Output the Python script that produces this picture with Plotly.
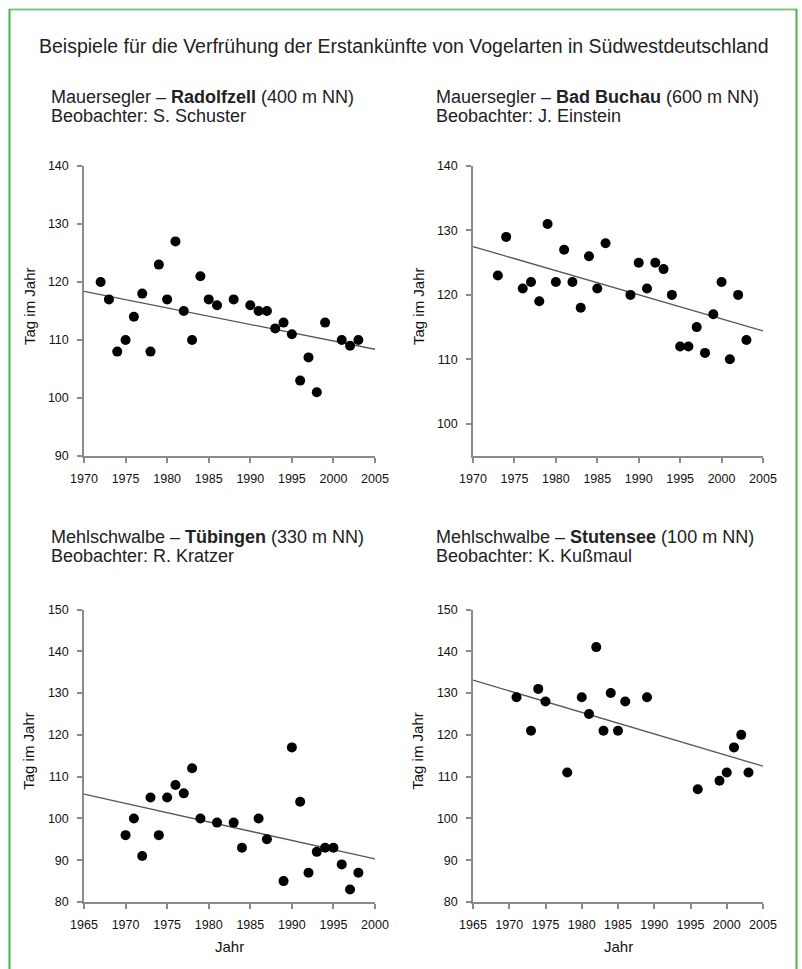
import plotly.graph_objects as go

W, H = 802, 969

# ---------------- data ----------------
rad_years = [1972, 1973, 1974, 1975, 1976, 1977, 1978, 1979, 1980, 1981, 1982, 1983, 1984, 1985, 1986,
             1988, 1990, 1991, 1992, 1993, 1994, 1995, 1996, 1997, 1998, 1999, 2001, 2002, 2003]
rad_days = [120, 117, 108, 110, 114, 118, 108, 123, 117, 127, 115, 110, 121, 117, 116,
            117, 116, 115, 115, 112, 113, 111, 103, 107, 101, 113, 110, 109, 110]
rad_trend_years = [1970, 2005]
rad_trend_days = [118.4, 108.4]

buc_years = [1973, 1974, 1976, 1977, 1978, 1979, 1980, 1981, 1982, 1983, 1984, 1985, 1986,
             1989, 1990, 1991, 1992, 1993, 1994, 1995, 1996, 1997, 1998, 1999, 2000, 2001, 2002, 2003]
buc_days = [123, 129, 121, 122, 119, 131, 122, 127, 122, 118, 126, 121, 128,
            120, 125, 121, 125, 124, 120, 112, 112, 115, 111, 117, 122, 110, 120, 113]
buc_trend_years = [1970, 2005]
buc_trend_days = [127.5, 114.4]

tue_years = [1970, 1971, 1972, 1973, 1974, 1975, 1976, 1977, 1978, 1979, 1981, 1983, 1984,
             1986, 1987, 1989, 1990, 1991, 1992, 1993, 1994, 1995, 1996, 1997, 1998]
tue_days = [96, 100, 91, 105, 96, 105, 108, 106, 112, 100, 99, 99, 93,
            100, 95, 85, 117, 104, 87, 92, 93, 93, 89, 83, 87]
tue_trend_years = [1965, 2000]
tue_trend_days = [105.8, 90.3]

stu_years = [1971, 1973, 1974, 1975, 1978, 1980, 1981, 1982, 1983, 1984, 1985, 1986, 1989,
             1996, 1999, 2000, 2001, 2002, 2003]
stu_days = [129, 121, 131, 128, 111, 129, 125, 141, 121, 130, 121, 128, 129,
            107, 109, 111, 117, 120, 111]
stu_trend_years = [1965, 2005]
stu_trend_days = [133.1, 112.5]

title_text = "Beispiele für die Verfrühung der Erstankünfte von Vogelarten in Südwestdeutschland"
panel_titles = [
    "Mauersegler – <b>Radolfzell</b> (400 m NN)",
    "Mauersegler – <b>Bad Buchau</b> (600 m NN)",
    "Mehlschwalbe – <b>Tübingen</b> (330 m NN)",
    "Mehlschwalbe – <b>Stutensee</b> (100 m NN)",
]
panel_observers = [
    "Beobachter: S. Schuster",
    "Beobachter: J. Einstein",
    "Beobachter: R. Kratzer",
    "Beobachter: K. Kußmaul",
]
y_title = "Tag im Jahr"
x_title = "Jahr"

# ---------------- layout helpers ----------------
def px(x):
    return x / W


def py(y):
    return 1 - y / H


panels = [
    dict(xs=rad_years, ys=rad_days, tx=rad_trend_years, ty=rad_trend_days,
         xr=[1970, 2005], yr=[90, 140], yt=[90, 100, 110, 120, 130, 140],
         dom_x=[84, 375], dom_y=[166, 456], xtitle=False, tx0=49, ty0=97),
    dict(xs=buc_years, ys=buc_days, tx=buc_trend_years, ty=buc_trend_days,
         xr=[1970, 2005], yr=[95, 140], yt=[100, 110, 120, 130, 140],
         dom_x=[473, 763], dom_y=[166, 456], xtitle=False, tx0=434, ty0=97),
    dict(xs=tue_years, ys=tue_days, tx=tue_trend_years, ty=tue_trend_days,
         xr=[1965, 2000], yr=[80, 150], yt=[80, 90, 100, 110, 120, 130, 140, 150],
         dom_x=[84, 375], dom_y=[609.5, 902], xtitle=True, tx0=49, ty0=537),
    dict(xs=stu_years, ys=stu_days, tx=stu_trend_years, ty=stu_trend_days,
         xr=[1965, 2005], yr=[80, 150], yt=[80, 90, 100, 110, 120, 130, 140, 150],
         dom_x=[473, 763], dom_y=[609.5, 902], xtitle=True, tx0=434, ty0=537),
]

fig = go.Figure()
annotations = []
axis_font = dict(family="Liberation Sans, Arial, sans-serif", size=12.5, color="#111")
text_font = "Liberation Sans, Arial, sans-serif"

for i, p in enumerate(panels):
    n = "" if i == 0 else str(i + 1)
    xa, ya = "x" + n, "y" + n
    fig.add_trace(go.Scatter(x=p["tx"], y=p["ty"], mode="lines", xaxis=xa, yaxis=ya,
                             line=dict(color="#555", width=1.3), showlegend=False, hoverinfo="skip",
                             cliponaxis=False))
    fig.add_trace(go.Scatter(x=p["xs"], y=p["ys"], mode="markers", xaxis=xa, yaxis=ya,
                             marker=dict(color="black", size=10), showlegend=False, cliponaxis=False))
    common = dict(showgrid=False, zeroline=False, showline=True, linecolor="#8a8a8a", linewidth=1.5,
                  ticks="outside", ticklen=5, tickwidth=1.5, tickcolor="#8a8a8a",
                  tickfont=axis_font, fixedrange=True, automargin=False)
    fig.layout["xaxis" + n] = dict(common, domain=[px(p["dom_x"][0]), px(p["dom_x"][1])],
                                   range=p["xr"], tickvals=list(range(p["xr"][0], p["xr"][1] + 1, 5)),
                                   anchor=ya, ticklabelstandoff=5)
    fig.layout["yaxis" + n] = dict(common, domain=[py(p["dom_y"][1]), py(p["dom_y"][0])],
                                   range=p["yr"], tickvals=p["yt"], anchor=xa, ticklabelstandoff=6)
    # panel titles
    annotations.append(dict(text=panel_titles[i], x=px(p["tx0"]), y=py(p["ty0"]), xref="paper", yref="paper",
                            xanchor="left", yanchor="middle", showarrow=False,
                            font=dict(family=text_font, size=18, color="#222")))
    annotations.append(dict(text=panel_observers[i], x=px(p["tx0"]), y=py(p["ty0"] + 19), xref="paper",
                            yref="paper", xanchor="left", yanchor="middle", showarrow=False,
                            font=dict(family=text_font, size=18, color="#222")))
    # y axis title
    cy = (p["dom_y"][0] + p["dom_y"][1]) / 2 - 5
    annotations.append(dict(text=y_title, x=px(p["dom_x"][0] - 55), y=py(cy), xref="paper", yref="paper",
                            textangle=-90, xanchor="center", yanchor="middle", showarrow=False,
                            font=dict(family=text_font, size=15, color="#111")))
    if p["xtitle"]:
        cx = (p["dom_x"][0] + p["dom_x"][1]) / 2
        annotations.append(dict(text=x_title, x=px(cx), y=py(946), xref="paper", yref="paper",
                                xanchor="center", yanchor="middle", showarrow=False,
                                font=dict(family=text_font, size=15, color="#111")))

annotations.append(dict(text=title_text, x=px(37), y=py(46), xref="paper", yref="paper",
                        xanchor="left", yanchor="middle", showarrow=False,
                        font=dict(family=text_font, size=19.5, color="#222")))

shapes = [
    dict(type="line", xref="paper", yref="paper", x0=px(9), x1=px(797), y0=py(9.5), y1=py(9.5),
         line=dict(color="#7cc87c", width=2)),
    dict(type="line", xref="paper", yref="paper", x0=px(9.5), x1=px(9.5), y0=py(9), y1=py(969),
         line=dict(color="#45b545", width=2)),
    dict(type="line", xref="paper", yref="paper", x0=px(796.5), x1=px(796.5), y0=py(9), y1=py(969),
         line=dict(color="#45b545", width=2)),
]

fig.update_layout(width=W, height=H, margin=dict(l=0, r=0, t=0, b=0, pad=0),
                  paper_bgcolor="white", plot_bgcolor="white",
                  annotations=annotations, shapes=shapes, showlegend=False)

fig.write_html("out.html", config={"displayModeBar": False},
               post_script="document.body.style.margin='0';document.body.style.overflow='hidden';")
